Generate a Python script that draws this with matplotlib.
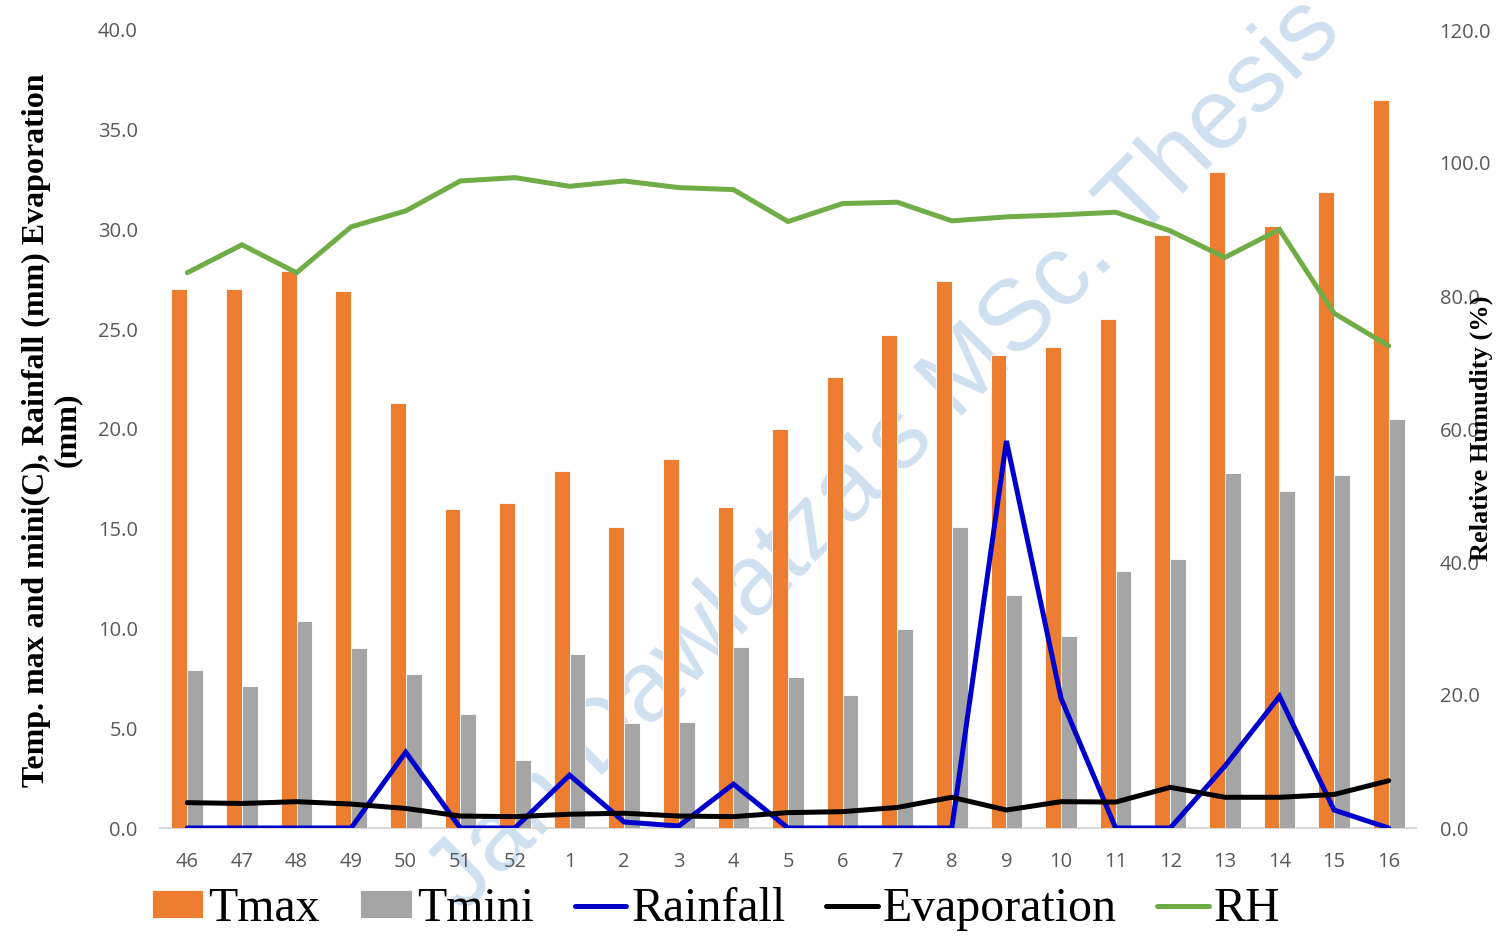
import matplotlib
matplotlib.use("Agg")
import matplotlib.pyplot as plt
import numpy as np

# Standard weeks (Nov -> Apr)
weeks = ["46", "47", "48", "49", "50", "51", "52", "1", "2", "3", "4", "5",
         "6", "7", "8", "9", "10", "11", "12", "13", "14", "15", "16"]

tmax = [27.0, 27.0, 27.9, 26.9, 21.3, 16.0, 16.3, 17.9, 15.1, 18.5, 16.1, 20.0,
        22.6, 24.7, 27.4, 23.7, 24.1, 25.5, 29.7, 32.9, 30.2, 31.9, 36.5]
tmini = [7.9, 7.1, 10.4, 9.0, 7.7, 5.7, 3.4, 8.7, 5.25, 5.3, 9.05, 7.55,
         6.65, 10.0, 15.1, 11.7, 9.6, 12.9, 13.5, 17.8, 16.9, 17.7, 20.5]
rainfall = [0.0, 0.0, 0.0, 0.0, 3.8, 0.0, 0.0, 2.65, 0.3, 0.1, 2.2, 0.0,
            0.0, 0.0, 0.0, 19.4, 6.5, 0.0, 0.0, 3.1, 6.6, 0.9, 0.0]
evaporation = [1.27, 1.23, 1.32, 1.2, 0.98, 0.6, 0.57, 0.69, 0.74, 0.6, 0.57, 0.77,
               0.82, 1.03, 1.54, 0.9, 1.32, 1.3, 2.04, 1.54, 1.54, 1.68, 2.37]
rh = [83.5, 87.7, 83.5, 90.4, 92.8, 97.3, 97.8, 96.5, 97.3, 96.3, 96.0, 91.2,
      93.9, 94.1, 91.3, 91.9, 92.2, 92.6, 89.8, 85.8, 90.0, 77.4, 72.5]

ORANGE = "#ED7D31"
GRAY = "#A5A5A5"
BLUE = "#0000CC"
GREEN = "#70AD47"
TICK_COLOR = "#595959"
TICK_FONT = "Open Sans"
SERIF = "Liberation Serif"

W, H = 1512, 939
fig = plt.figure(figsize=(W / 100, H / 100), dpi=100)
fig.patch.set_facecolor("white")

# Watermark behind the chart
fig.text(885 / W, 1 - 455 / H, "Jan Dawlatza's MSc. Thesis",
         rotation=45, rotation_mode="anchor", ha="center", va="center",
         family="Liberation Sans", fontsize=72, color="#CFE0F1", zorder=-5)

ax = fig.add_axes([160 / W, 1 - 828 / H, (1416 - 160) / W, (828 - 30) / H])
ax.patch.set_visible(False)

x = np.arange(len(weeks))
bw = 0.29
b1 = ax.bar(x - bw / 2, tmax, width=bw, color=ORANGE, edgecolor="white",
            linewidth=0.6, label="Tmax", zorder=2)
b2 = ax.bar(x + bw / 2, tmini, width=bw, color=GRAY, edgecolor="white",
            linewidth=0.6, label="Tmini", zorder=2)
l_rain, = ax.plot(x, rainfall, color=BLUE, lw=3.6, solid_capstyle="round",
                  solid_joinstyle="miter", label="Rainfall", zorder=3)
l_evap, = ax.plot(x, evaporation, color="black", lw=3.6, solid_capstyle="round",
                  solid_joinstyle="round", label="Evaporation", zorder=4)

ax.set_xlim(-0.5, len(weeks) - 0.5)
ax.set_ylim(0, 40)
ax.set_yticks(np.arange(0, 40.1, 5))
ax.set_yticklabels([f"{v:.1f}" for v in np.arange(0, 40.1, 5)])
ax.set_xticks(x)
ax.set_xticklabels(weeks)
for s in ("top", "left", "right"):
    ax.spines[s].set_visible(False)
ax.spines["bottom"].set_color("#D9D9D9")
ax.spines["bottom"].set_linewidth(1.5)
ax.spines["bottom"].set_zorder(1)
ax.tick_params(axis="y", length=0, pad=16, labelsize=14.5, labelcolor=TICK_COLOR)
ax.tick_params(axis="x", length=0, pad=17, labelsize=14.5, labelcolor=TICK_COLOR)
for lab in ax.get_xticklabels() + ax.get_yticklabels():
    lab.set_fontfamily(TICK_FONT)

# Relative humidity on the secondary axis
ax2 = ax.twinx()
ax2.patch.set_visible(False)
l_rh, = ax2.plot(x, rh, color=GREEN, lw=3.6, solid_capstyle="round",
                 solid_joinstyle="miter", label="RH", zorder=3)
ax2.set_ylim(0, 120)
ax2.set_yticks(np.arange(0, 120.1, 20))
ax2.set_yticklabels([f"{v:.1f}" for v in np.arange(0, 120.1, 20)])
for s in ("top", "left", "right", "bottom"):
    ax2.spines[s].set_visible(False)
ax2.tick_params(axis="y", length=0, pad=17, labelsize=14.5, labelcolor=TICK_COLOR)
for lab in ax2.get_yticklabels():
    lab.set_fontfamily(TICK_FONT)

# Axis titles
fig.text(52 / W, 1 - 430 / H,
         "Temp. max and mini(C), Rainfall (mm) Evaporation\n(mm)",
         rotation=90, ha="center", va="center", multialignment="center",
         family=SERIF, fontweight="bold", fontsize=23, linespacing=1.05)
fig.text(1481 / W, 1 - 428 / H, "Relative Humudity (%)",
         rotation=90, ha="center", va="center",
         family=SERIF, fontweight="bold", fontsize=19)

# Legend
handles = [b1, b2, l_rain, l_evap, l_rh]
labels = ["Tmax", "Tmini", "Rainfall", "Evaporation", "RH"]
fig.legend(handles, labels, loc="center",
           bbox_to_anchor=(716 / W, 1 - 909 / H), ncol=5, frameon=False,
           prop={"family": SERIF, "size": 34.5},
           handlelength=1.08, handleheight=0.5, handletextpad=0.1,
           columnspacing=0.85, borderpad=0.1)

fig.savefig("out.png", dpi=100, facecolor="white")
